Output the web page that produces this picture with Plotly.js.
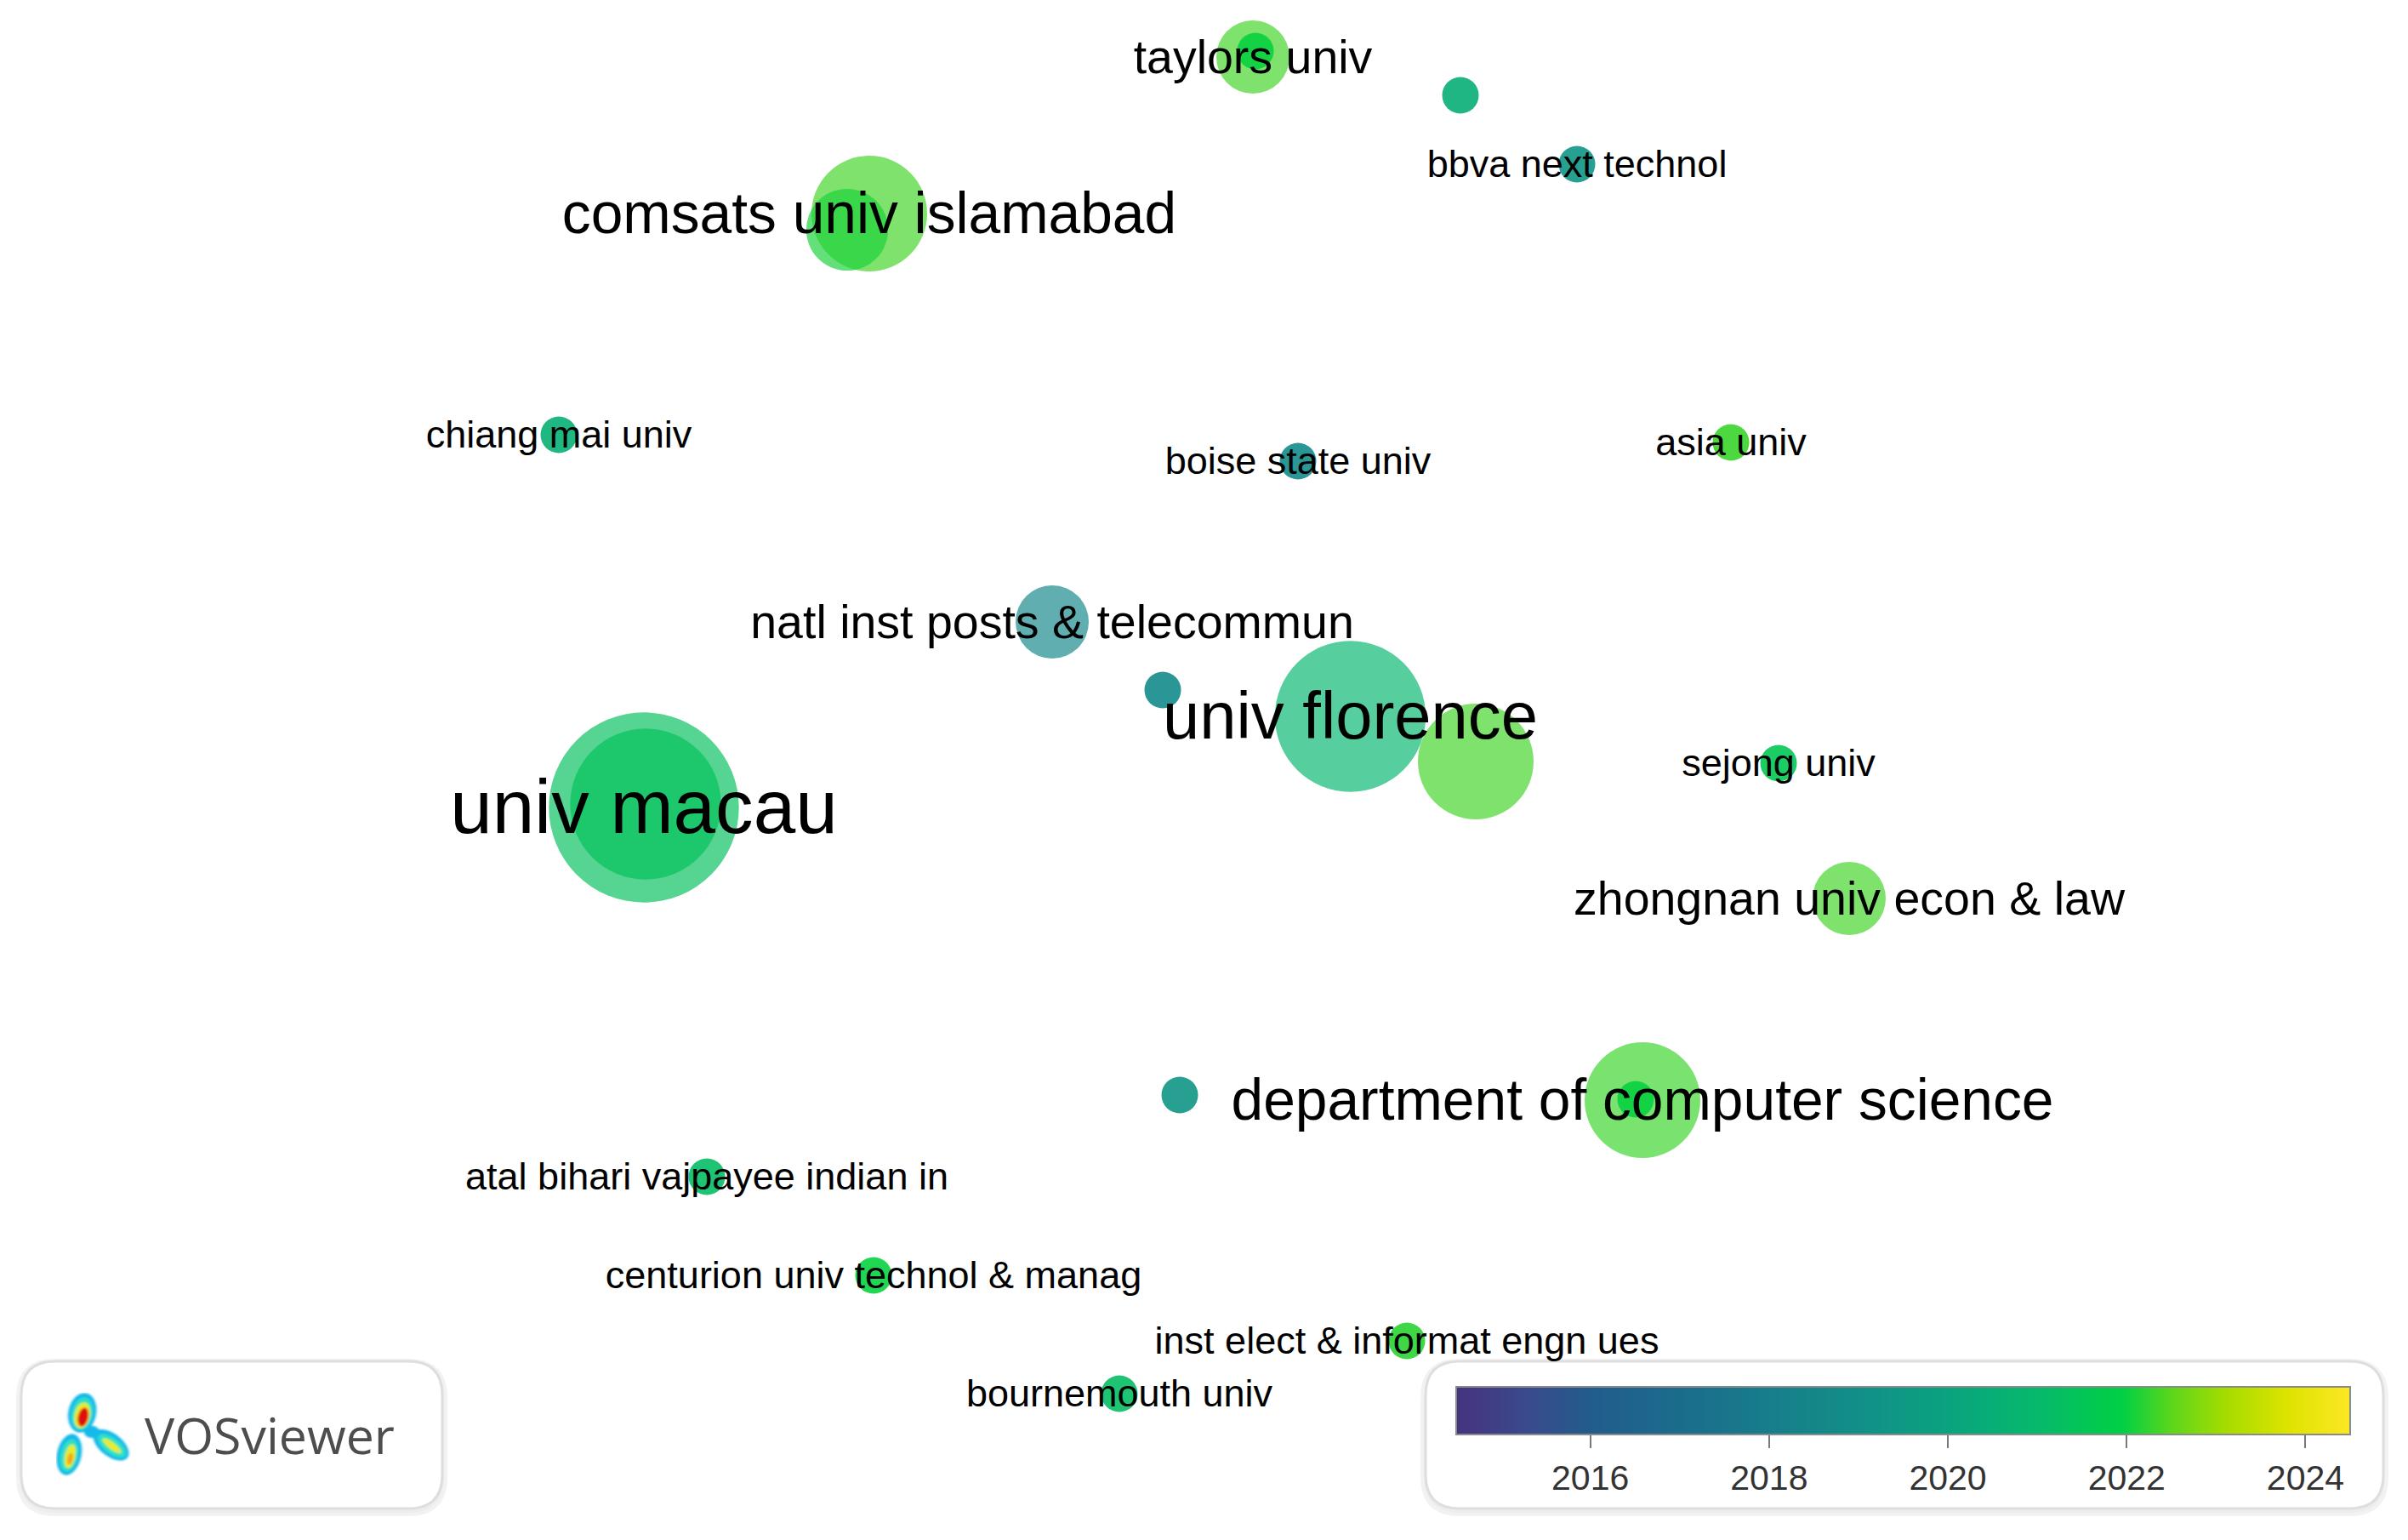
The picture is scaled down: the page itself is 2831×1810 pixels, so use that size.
<!DOCTYPE html>
<html>
<head>
<meta charset="utf-8">
<script src="https://cdn.plot.ly/plotly-3.0.1.min.js"></script>
<style>html,body{margin:0;padding:0;background:#fff;}#chart{width:2831px;height:1810px;}</style>
</head>
<body>
<div id="chart"></div>
<script>
// ---- data (map coordinates, occurrences/weight, average publication year) ----
const labels = [
  'univ macau', '', 'univ florence', '', '', 'natl inst posts & telecommun',
  'comsats univ islamabad', '', 'taylors univ', '', '', 'bbva next technol',
  'chiang mai univ', 'boise state univ', 'asia univ', 'sejong univ',
  'zhongnan univ econ & law', 'department of computer science', '', '',
  'atal bihari vajpayee indian in', 'centurion univ technol & manag',
  'inst elect & informat engn ues', 'bournemouth univ'
];
const mapX = [-0.6585, -0.6565, 0.172, 0.3195, -0.0485, -0.1785,
  -0.3935, -0.4195, 0.0575, 0.0605, 0.3015, 0.4385,
  -0.7585, 0.1105, 0.6195, 0.6755,
  0.7585, 0.5155, 0.5075, -0.0285,
  -0.5845, -0.3885, 0.2385, -0.0995];
const mapY = [-0.044, -0.040, 0.063, 0.010, 0.094, 0.174,
  0.654, 0.635, 0.838, 0.845, 0.793, 0.712,
  0.394, 0.363, 0.385, 0.008,
  -0.151, -0.388, -0.387, -0.382,
  -0.478, -0.594, -0.671, -0.733];
const weights = [27, 17, 17, 10, 1, 4,
  10, 5, 4, 1, 1, 1,
  1, 1, 1, 1,
  4, 10, 1, 1,
  1, 1, 1, 1];
const avgYear = [2021.3, 2021.4, 2020.9, 2022.35, 2018.8, 2018.6,
  2022.35, 2022.1, 2022.35, 2022.0, 2020.5, 2019.3,
  2020.6, 2018.8, 2022.3, 2021.6,
  2022.35, 2022.3, 2022.0, 2019.3,
  2021.2, 2022.0, 2022.2, 2021.2];
const tickYears = [2016, 2018, 2020, 2022, 2024];
const yearMin = 2014.5, yearMax = 2024.5;

// ---- styling ----
const W = 2831, H = 1810;
const colorscale = [
  [0.00, '#46337e'], [0.08, '#3a4a8c'], [0.15, '#225c8c'], [0.25, '#1b6c8c'],
  [0.35, '#177d8b'], [0.45, '#128f88'], [0.55, '#0aa37f'], [0.65, '#06b96c'],
  [0.745, '#00d044'], [0.80, '#5cd61c'], [0.86, '#a4dc00'], [0.93, '#dee300'],
  [1.00, '#fde725']
];
const diam = weights.map(w => 43 * Math.sqrt(w));
const fsize = weights.map(w => 34.5 + 10.5 * Math.sqrt(w));
const opac = weights.map(w => w >= 4 ? 0.68 : 0.9);
const textY = mapY.map((y, i) => y - 0.09 * fsize[i] / 1000);

const nodes = {
  type: 'scatter', mode: 'markers', x: mapX, y: mapY,
  hoverinfo: 'skip', showlegend: false,
  marker: {
    size: diam, sizemode: 'diameter', color: avgYear, colorscale: colorscale,
    cmin: yearMin, cmax: yearMax, opacity: opac, line: {width: 0},
    showscale: true,
    colorbar: {
      orientation: 'h', x: 1712 / W, xanchor: 'left', y: 1 - 1630 / H, yanchor: 'top',
      len: 1051, lenmode: 'pixels', thickness: 56, thicknessmode: 'pixels',
      xpad: 0, ypad: 0, outlinewidth: 2, outlinecolor: '#8a8a8a', borderwidth: 0,
      tickmode: 'array', tickvals: tickYears, ticktext: tickYears.map(String),
      ticks: 'outside', ticklen: 15, tickwidth: 2, tickcolor: '#7a7a7a',
      tickfont: {family: 'Liberation Sans, Arial, sans-serif', size: 41, color: '#333'}
    }
  }
};
const texts = {
  type: 'scatter', mode: 'text', x: mapX, y: textY, text: labels,
  textposition: 'middle center', hoverinfo: 'skip', showlegend: false,
  textfont: {family: 'Liberation Sans, Arial, sans-serif', size: fsize, color: '#000'}
};

function rr(x0, y0, x1, y1, r) {
  const X = v => (v / W).toFixed(5), Y = v => (1 - v / H).toFixed(5);
  return `M${X(x0 + r)},${Y(y0)} L${X(x1 - r)},${Y(y0)} Q${X(x1)},${Y(y0)} ${X(x1)},${Y(y0 + r)} ` +
         `L${X(x1)},${Y(y1 - r)} Q${X(x1)},${Y(y1)} ${X(x1 - r)},${Y(y1)} ` +
         `L${X(x0 + r)},${Y(y1)} Q${X(x0)},${Y(y1)} ${X(x0)},${Y(y1 - r)} ` +
         `L${X(x0)},${Y(y0 + r)} Q${X(x0)},${Y(y0)} ${X(x0 + r)},${Y(y0)} Z`;
}
function box(x0, y0, x1, y1, r) {
  return [
    {type: 'path', xref: 'paper', yref: 'paper', layer: 'below', path: rr(x0 - 2, y0 + 1, x1 + 2, y1 + 5, r + 2),
     line: {color: 'rgba(0,0,0,0.05)', width: 8}, fillcolor: 'rgba(0,0,0,0.02)'},
    {type: 'path', xref: 'paper', yref: 'paper', layer: 'below', path: rr(x0, y0, x1, y1, r),
     line: {color: '#dedede', width: 3}, fillcolor: '#ffffff'}
  ];
}

const logoSvg = `<svg xmlns="http://www.w3.org/2000/svg" width="86" height="96" viewBox="0 0 86 96">
<defs><filter id="b" x="-30%" y="-30%" width="160%" height="160%"><feGaussianBlur stdDeviation="1.3"/></filter></defs>
<g filter="url(#b)">
<g fill="#12b9ea">
<ellipse cx="30" cy="23" rx="16" ry="23" transform="rotate(12 30 23)"/>
<ellipse cx="15" cy="71" rx="14" ry="24" transform="rotate(12 15 71)"/>
<ellipse cx="63" cy="60" rx="24" ry="13" transform="rotate(38 63 60)"/>
<ellipse cx="41" cy="45" rx="9" ry="7"/>
</g>
<g fill="#2fe0c8">
<ellipse cx="30" cy="24" rx="12" ry="19" transform="rotate(12 30 24)"/>
<ellipse cx="15" cy="72" rx="10" ry="19" transform="rotate(12 15 72)"/>
<ellipse cx="64" cy="61" rx="19" ry="9" transform="rotate(38 64 61)"/>
</g>
<g fill="#e6ec2c">
<ellipse cx="30" cy="26" rx="9" ry="15" transform="rotate(12 30 26)"/>
<ellipse cx="16" cy="73" rx="6" ry="14" transform="rotate(12 16 73)"/>
<ellipse cx="64" cy="61" rx="13" ry="4" transform="rotate(38 64 61)"/>
</g>
<ellipse cx="31" cy="28" rx="6" ry="11" fill="#e01010" transform="rotate(12 31 28)"/>
<ellipse cx="16" cy="76" rx="3" ry="7" fill="#f4a020" transform="rotate(12 16 76)"/>
</g></svg>`;

const layout = {
  width: W, height: H,
  margin: {l: 0, r: 0, t: 0, b: 0, pad: 0, autoexpand: false},
  paper_bgcolor: '#ffffff', plot_bgcolor: '#ffffff',
  xaxis: {range: [-1.4155, 1.4155], visible: false, fixedrange: true},
  yaxis: {range: [-0.905, 0.905], visible: false, fixedrange: true},
  shapes: [].concat(box(25, 1600, 520, 1773, 40), box(1676, 1600, 2802, 1773, 40)),
  images: [{
    source: 'data:image/svg+xml;charset=utf-8,' + encodeURIComponent(logoSvg),
    xref: 'paper', yref: 'paper', x: 66 / W, y: 1 - 1637 / H,
    sizex: 88 / W, sizey: 98 / H, xanchor: 'left', yanchor: 'top',
    sizing: 'stretch', layer: 'above'
  }],
  annotations: [{
    text: 'VOSviewer', xref: 'paper', yref: 'paper', x: 168 / W, y: 1 - 1686 / H,
    xanchor: 'left', yanchor: 'middle', showarrow: false,
    font: {family: 'Open Sans, sans-serif', size: 59, color: '#4d4d4d'}
  }]
};

Plotly.newPlot('chart', [nodes, texts], layout, {staticPlot: true, displayModeBar: false});
</script>
</body>
</html>
